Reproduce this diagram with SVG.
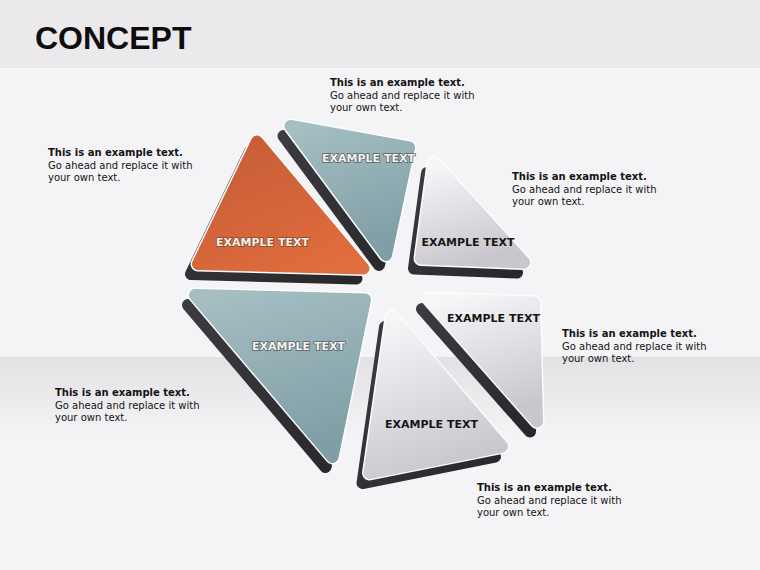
<svg xmlns="http://www.w3.org/2000/svg" xmlns:xlink="http://www.w3.org/1999/xlink" width="760" height="570" viewBox="0 0 760 570">
<style>
.tri{stroke-linejoin:round;stroke-width:12}
.dark{fill:url(#gDark);stroke:url(#gDark)}
.halo{fill:#fcfcfe;stroke:#fcfcfe;stroke-width:15}
.orange{fill:url(#gOrange);stroke:url(#gOrange)}
.teal{fill:url(#gTeal);stroke:url(#gTeal)}
.light{fill:url(#gLight);stroke:url(#gLight)}
.lw{font-family:"DejaVu Sans",sans-serif;font-weight:bold;font-size:11px;fill:#f8f2ea;stroke:#55636a;stroke-width:1.6;paint-order:stroke;text-anchor:middle}
.lo{stroke:#8a4a30}
.ld{font-family:"DejaVu Sans",sans-serif;font-weight:bold;font-size:11px;fill:#161616;text-anchor:middle}
.note{font-family:"DejaVu Sans",sans-serif;font-size:10px;fill:#141414}
.note .h{font-weight:bold}
</style>
<defs>
<linearGradient id="gDark" x1="0" y1="0" x2="1" y2="1">
<stop offset="0" stop-color="#3c3b40"/><stop offset="1" stop-color="#28272b"/>
</linearGradient>
<linearGradient id="gOrange" x1="0.2" y1="0" x2="0.8" y2="1">
<stop offset="0" stop-color="#c75d37"/><stop offset="1" stop-color="#e06d3d"/>
</linearGradient>
<linearGradient id="gTeal" x1="0.2" y1="0" x2="0.5" y2="1">
<stop offset="0" stop-color="#a4bec2"/><stop offset="1" stop-color="#7f9ea5"/>
</linearGradient>
<linearGradient id="gLight" x1="0.2" y1="0" x2="0.5" y2="1">
<stop offset="0" stop-color="#f6f5f8"/><stop offset="1" stop-color="#c9c7cd"/>
</linearGradient>
<linearGradient id="gBand" x1="0" y1="0" x2="0" y2="1">
<stop offset="0" stop-color="#e2e1e4"/><stop offset="1" stop-color="#f4f3f6"/>
</linearGradient>
<polygon id="p1" points="257,141.5 198,264 363.5,268.5"/>
<polygon id="p2" points="290.5,126 409,147.5 386,255"/>
<polygon id="p3" points="434,163 421,258.5 524,262.5"/>
<polygon id="p4" points="195,295 365,299.5 332.5,457"/>
<polygon id="p5" points="392,317 369.5,473 502,446.5"/>
<polygon id="p6" points="429,299 534,302.5 537,421.5"/>
</defs>
<g id="background">
<rect x="0" y="0" width="760" height="570" fill="#f4f3f6"/>
<rect x="0" y="0" width="760" height="68" fill="#ebe9ec"/>
<rect x="0" y="68" width="760" height="2" fill="#f8f7fa"/>
<rect x="0" y="357" width="760" height="80" fill="url(#gBand)"/>
</g>
<text id="title" x="35" y="49" font-family="Liberation Sans, Arial, sans-serif" font-weight="bold" font-size="32" fill="#0e0e0e">CONCEPT</text>
<g id="connectors"/>
<g id="node-1">
<use href="#p1" class="tri dark" transform="translate(-7,10)"/>
<use href="#p1" class="tri halo"/>
<use href="#p1" class="tri orange"/>
<text class="lw lo" x="262.5" y="246">EXAMPLE TEXT</text>
</g>
<g id="node-2">
<use href="#p2" class="tri dark" transform="translate(-7,10)"/>
<use href="#p2" class="tri halo"/>
<use href="#p2" class="tri teal"/>
<text class="lw" x="368.5" y="162">EXAMPLE TEXT</text>
</g>
<g id="node-3">
<use href="#p3" class="tri dark" transform="translate(-7,10)"/>
<use href="#p3" class="tri halo"/>
<use href="#p3" class="tri light"/>
<text class="ld" x="468" y="246">EXAMPLE TEXT</text>
</g>
<g id="node-4">
<use href="#p4" class="tri dark" transform="translate(-7,10)"/>
<use href="#p4" class="tri halo"/>
<use href="#p4" class="tri teal"/>
<text class="lw" x="298.5" y="350">EXAMPLE TEXT</text>
</g>
<g id="node-5">
<use href="#p5" class="tri dark" transform="translate(-7,10)"/>
<use href="#p5" class="tri halo"/>
<use href="#p5" class="tri light"/>
<text class="ld" x="431.5" y="428">EXAMPLE TEXT</text>
</g>
<g id="node-6">
<use href="#p6" class="tri dark" transform="translate(-7,10)"/>
<use href="#p6" class="tri halo"/>
<use href="#p6" class="tri light"/>
<text class="ld" x="493.5" y="322">EXAMPLE TEXT</text>
</g>
<g id="note-1" class="note">
<text x="48" y="156"><tspan class="h">This is an example text.</tspan><tspan x="48" dy="12.5">Go ahead and replace it with</tspan><tspan x="48" dy="12.5">your own text.</tspan></text>
</g>
<g id="note-2" class="note">
<text x="330" y="86"><tspan class="h">This is an example text.</tspan><tspan x="330" dy="12.5">Go ahead and replace it with</tspan><tspan x="330" dy="12.5">your own text.</tspan></text>
</g>
<g id="note-3" class="note">
<text x="512" y="180"><tspan class="h">This is an example text.</tspan><tspan x="512" dy="12.5">Go ahead and replace it with</tspan><tspan x="512" dy="12.5">your own text.</tspan></text>
</g>
<g id="note-4" class="note">
<text x="562" y="337"><tspan class="h">This is an example text.</tspan><tspan x="562" dy="12.5">Go ahead and replace it with</tspan><tspan x="562" dy="12.5">your own text.</tspan></text>
</g>
<g id="note-5" class="note">
<text x="55" y="396"><tspan class="h">This is an example text.</tspan><tspan x="55" dy="12.5">Go ahead and replace it with</tspan><tspan x="55" dy="12.5">your own text.</tspan></text>
</g>
<g id="note-6" class="note">
<text x="477" y="491"><tspan class="h">This is an example text.</tspan><tspan x="477" dy="12.5">Go ahead and replace it with</tspan><tspan x="477" dy="12.5">your own text.</tspan></text>
</g>
</svg>
